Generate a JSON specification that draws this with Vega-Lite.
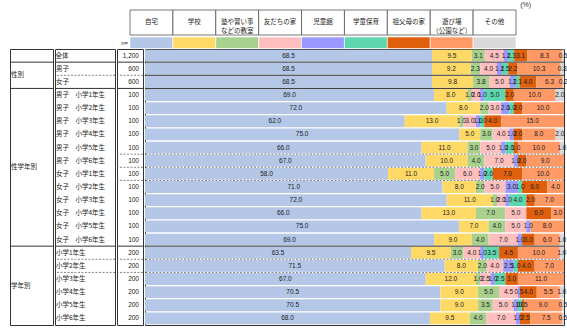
{
  "$schema": "https://vega.github.io/schema/vega-lite/v6.json",
  "padding": {"left": 9, "top": 0, "right": 0, "bottom": 0},
  "background": "white",
  "title": {"text": "(%)", "anchor": "end", "fontSize": 7, "fontWeight": "normal", "font": "Liberation Sans", "color": "#333", "offset": 2, "dx": -37},
  "spacing": -3.5,
  "config": {
    "view": {"stroke": null},
    "font": "Noto Sans CJK JP",
    "text": {"font": "Noto Sans CJK JP", "fontSize": 6.5, "color": "#222"},
    "concat": {"spacing": 0}
  },
  "datasets": {
    "cats": [
      {"cat": "自宅", "ci": 1, "head": "自宅"},
      {"cat": "学校", "ci": 2, "head": "学校"},
      {"cat": "教室", "ci": 3, "head": "塾や習い事\nなどの教室"},
      {"cat": "友だち", "ci": 4, "head": "友だちの家"},
      {"cat": "児童館", "ci": 5, "head": "児童館"},
      {"cat": "学童", "ci": 6, "head": "学童保育"},
      {"cat": "祖父母", "ci": 7, "head": "祖父母の家"},
      {"cat": "遊び場", "ci": 8, "head": "遊び場\n（公園など）"},
      {"cat": "その他", "ci": 9, "head": "その他"}
    ],
    "rows": [
      {"key": "r01", "idx": 1, "group": "全体", "label": "全体", "n": "1,200", "自宅": 68.5, "学校": 9.5, "教室": 3.1, "友だち": 4.5, "児童館": 1.2, "学童": 1.3, "祖父母": 3.1, "遊び場": 8.3, "その他": 0.5},
      {"key": "r02", "idx": 2, "group": "性別", "label": "男子", "n": "600", "自宅": 68.5, "学校": 9.2, "教室": 2.3, "友だち": 4.0, "児童館": 1.2, "学童": 1.5, "祖父母": 2.2, "遊び場": 10.3, "その他": 0.8},
      {"key": "r03", "idx": 3, "group": "性別", "label": "女子", "n": "600", "自宅": 68.5, "学校": 9.8, "教室": 3.8, "友だち": 5.0, "児童館": 1.2, "学童": 1.1, "祖父母": 4.0, "遊び場": 6.3, "その他": 0.2},
      {"key": "r04", "idx": 4, "group": "性学年別", "label": "男子　小学1年生", "n": "100", "自宅": 69, "学校": 8, "教室": 1, "友だち": 2, "児童館": 1, "学童": 5, "祖父母": 2, "遊び場": 10, "その他": 2},
      {"key": "r05", "idx": 5, "group": "性学年別", "label": "男子　小学2年生", "n": "100", "自宅": 72, "学校": 8, "教室": 2, "友だち": 3, "児童館": 2, "学童": 1, "祖父母": 2, "遊び場": 10, "その他": 0},
      {"key": "r06", "idx": 6, "group": "性学年別", "label": "男子　小学3年生", "n": "100", "自宅": 62, "学校": 13, "教室": 1, "友だち": 3, "児童館": 1, "学童": 1, "祖父母": 4, "遊び場": 15, "その他": 0},
      {"key": "r07", "idx": 7, "group": "性学年別", "label": "男子　小学4年生", "n": "100", "自宅": 75, "学校": 5, "教室": 3, "友だち": 4, "児童館": 1, "学童": 0, "祖父母": 2, "遊び場": 8, "その他": 2},
      {"key": "r08", "idx": 8, "group": "性学年別", "label": "男子　小学5年生", "n": "100", "自宅": 66, "学校": 11, "教室": 3, "友だち": 5, "児童館": 1, "学童": 2, "祖父母": 1, "遊び場": 10, "その他": 1},
      {"key": "r09", "idx": 9, "group": "性学年別", "label": "男子　小学6年生", "n": "100", "自宅": 67, "学校": 10, "教室": 4, "友だち": 7, "児童館": 1, "学童": 0, "祖父母": 2, "遊び場": 9, "その他": 0},
      {"key": "r10", "idx": 10, "group": "性学年別", "label": "女子　小学1年生", "n": "100", "自宅": 58, "学校": 11, "教室": 5, "友だち": 6, "児童館": 1, "学童": 2, "祖父母": 7, "遊び場": 10, "その他": 0},
      {"key": "r11", "idx": 11, "group": "性学年別", "label": "女子　小学2年生", "n": "100", "自宅": 71, "学校": 8, "教室": 2, "友だち": 5, "児童館": 3, "学童": 1, "祖父母": 6, "遊び場": 4, "その他": 0},
      {"key": "r12", "idx": 12, "group": "性学年別", "label": "女子　小学3年生", "n": "100", "自宅": 72, "学校": 11, "教室": 1, "友だち": 2, "児童館": 1, "学童": 4, "祖父母": 2, "遊び場": 7, "その他": 0},
      {"key": "r13", "idx": 13, "group": "性学年別", "label": "女子　小学4年生", "n": "100", "自宅": 66, "学校": 13, "教室": 7, "友だち": 5, "児童館": 0, "学童": 0, "祖父母": 6, "遊び場": 3, "その他": 0},
      {"key": "r14", "idx": 14, "group": "性学年別", "label": "女子　小学5年生", "n": "100", "自宅": 75, "学校": 7, "教室": 4, "友だち": 5, "児童館": 1, "学童": 0, "祖父母": 0, "遊び場": 8, "その他": 0},
      {"key": "r15", "idx": 15, "group": "性学年別", "label": "女子　小学6年生", "n": "100", "自宅": 69, "学校": 9, "教室": 4, "友だち": 7, "児童館": 1, "学童": 0, "祖父母": 3, "遊び場": 6, "その他": 1},
      {"key": "r16", "idx": 16, "group": "学年別", "label": "小学1年生", "n": "200", "自宅": 63.5, "学校": 9.5, "教室": 3.0, "友だち": 4.0, "児童館": 1.0, "学童": 3.5, "祖父母": 4.5, "遊び場": 10.0, "その他": 1.0},
      {"key": "r17", "idx": 17, "group": "学年別", "label": "小学2年生", "n": "200", "自宅": 71.5, "学校": 8.0, "教室": 2.0, "友だち": 4.0, "児童館": 2.5, "学童": 1.0, "祖父母": 4.0, "遊び場": 7.0, "その他": 0},
      {"key": "r18", "idx": 18, "group": "学年別", "label": "小学3年生", "n": "200", "自宅": 67.0, "学校": 12.0, "教室": 1.0, "友だち": 2.5, "児童館": 1.0, "学童": 2.5, "祖父母": 3.0, "遊び場": 11.0, "その他": 0},
      {"key": "r19", "idx": 19, "group": "学年別", "label": "小学4年生", "n": "200", "自宅": 70.5, "学校": 9.0, "教室": 5.0, "友だち": 4.5, "児童館": 0.5, "学童": 0, "祖父母": 4.0, "遊び場": 5.5, "その他": 1.0},
      {"key": "r20", "idx": 20, "group": "学年別", "label": "小学5年生", "n": "200", "自宅": 70.5, "学校": 9.0, "教室": 3.5, "友だち": 5.0, "児童館": 1.0, "学童": 1.0, "祖父母": 0.5, "遊び場": 9.0, "その他": 0.5},
      {"key": "r21", "idx": 21, "group": "学年別", "label": "小学6年生", "n": "200", "自宅": 68.0, "学校": 9.5, "教室": 4.0, "友だち": 7.0, "児童館": 1.0, "学童": 0, "祖父母": 2.5, "遊び場": 7.5, "その他": 0.5}
    ]
  },
  "vconcat": [
    {
      "spacing": 0,
      "hconcat": [
        {
          "width": 119, "height": 36.5,
          "data": {"values": [{"t": "n="}]},
          "mark": {"type": "text", "align": "right", "baseline": "bottom", "fontSize": 6, "font": "Liberation Sans", "dx": -1, "dy": -1},
          "encoding": {
            "x": {"field": "t", "type": "nominal", "axis": null, "bandPosition": 1, "scale": {"type": "band", "paddingInner": 0, "paddingOuter": 0}},
            "y": {"field": "t", "type": "nominal", "axis": null, "bandPosition": 1, "scale": {"type": "band", "paddingInner": 0, "paddingOuter": 0}},
            "text": {"field": "t"}
          }
        },
        {
          "spacing": 0,
          "vconcat": [
            {
              "width": 386, "height": 25,
              "data": {"name": "cats"},
              "layer": [
                {
                  "mark": {"type": "rect", "fill": "white", "stroke": "#555", "strokeWidth": 0.8},
                  "encoding": {
                    "x": {"field": "cat", "type": "nominal", "sort": {"field": "ci", "op": "min"}, "axis": null, "scale": {"type": "band", "paddingInner": 0, "paddingOuter": 0}}
                  }
                },
                {
                  "mark": {"type": "text", "lineBreak": "\n", "fontSize": 6.5, "lineHeight": 9, "dy": -1},
                  "encoding": {
                    "x": {"field": "cat", "type": "nominal", "sort": {"field": "ci", "op": "min"}, "axis": null},
                    "text": {"field": "head"}
                  }
                }
              ]
            },
            {
              "width": 386, "height": 11.5,
              "data": {"name": "cats"},
              "mark": {"type": "rect", "stroke": "white", "strokeWidth": 0.6},
              "encoding": {
                "x": {"field": "cat", "type": "nominal", "sort": {"field": "ci", "op": "min"}, "axis": null, "scale": {"type": "band", "paddingInner": 0, "paddingOuter": 0}},
                "color": {"field": "cat", "type": "nominal", "legend": null,
                  "scale": {"domain": ["自宅", "学校", "教室", "友だち", "児童館", "学童", "祖父母", "遊び場", "その他"],
                            "range": ["#B4C7E7", "#FFD966", "#A9D18E", "#FFBFBF", "#9999FF", "#5ED6AE", "#DF5F0B", "#FF9966", "#D9D9D9"]}}
              }
            }
          ]
        }
      ]
    },
    {
      "spacing": 0,
      "hconcat": [
        {
          "width": 43, "height": 276,
          "view": {"stroke": "#333", "strokeWidth": 1},
          "data": {"name": "rows"},
          "layer": [
            {
              "transform": [{"filter": {"field": "key", "oneOf": ["r01", "r03", "r15"]}}],
              "mark": {"type": "rule", "color": "#333", "strokeWidth": 1},
              "encoding": {
                "y": {"field": "key", "type": "nominal", "bandPosition": 1, "axis": null,
                      "scale": {"type": "band", "paddingInner": 0, "paddingOuter": 0,
                                "domain": ["r01", "r02", "r03", "r04", "r05", "r06", "r07", "r08", "r09", "r10", "r11", "r12", "r13", "r14", "r15", "r16", "r17", "r18", "r19", "r20", "r21"]}}
              }
            },
            {
              "transform": [
                {"filter": "datum.group !== '全体'"},
                {"aggregate": [{"op": "mean", "field": "idx", "as": "mid"}], "groupby": ["group"]}
              ],
              "mark": {"type": "text", "align": "left", "dx": 1, "fontSize": 6.5},
              "encoding": {
                "y": {"field": "mid", "type": "quantitative", "axis": null, "scale": {"domain": [0.5, 21.5], "reverse": true, "nice": false, "zero": false}},
                "x": {"datum": "c", "type": "nominal", "bandPosition": 0, "axis": null, "scale": {"type": "band", "paddingInner": 0, "paddingOuter": 0}},
                "text": {"field": "group"}
              }
            }
          ],
          "resolve": {"scale": {"y": "independent"}}
        },
        {
          "width": 60, "height": 276,
          "view": {"stroke": "#333", "strokeWidth": 1},
          "data": {"name": "rows"},
          "encoding": {
            "y": {"field": "key", "type": "nominal", "axis": null, "scale": {"type": "band", "paddingInner": 0, "paddingOuter": 0}}
          },
          "layer": [
            {
              "transform": [{"filter": {"field": "key", "oneOf": ["r01", "r03", "r15"]}}],
              "mark": {"type": "rule", "color": "#333", "strokeWidth": 1},
              "encoding": {"y": {"field": "key", "type": "nominal", "bandPosition": 1, "axis": null}}
            },
            {
              "transform": [{"filter": {"field": "key", "oneOf": ["r02", "r16", "r17"]}}],
              "mark": {"type": "rule", "color": "#666", "strokeWidth": 0.8, "strokeDash": [2, 1.5]},
              "encoding": {"y": {"field": "key", "type": "nominal", "bandPosition": 1, "axis": null}}
            },
            {
              "transform": [{"filter": "datum.group !== '全体'"}],
              "mark": {"type": "text", "align": "left", "dx": 1, "fontSize": 6.5},
              "encoding": {
                "x": {"datum": "c", "type": "nominal", "bandPosition": 0, "axis": null, "scale": {"type": "band", "paddingInner": 0, "paddingOuter": 0}},
                "text": {"field": "label"}
              }
            },
            {
              "transform": [{"filter": "datum.group === '全体'"}],
              "mark": {"type": "text", "align": "center", "dx": 7, "fontSize": 6.5},
              "encoding": {
                "x": {"datum": "c", "type": "nominal", "bandPosition": 0, "axis": null},
                "text": {"field": "label"}
              }
            }
          ]
        },
        {
          "width": 26, "height": 276,
          "view": {"stroke": "#333", "strokeWidth": 1},
          "data": {"name": "rows"},
          "encoding": {
            "y": {"field": "key", "type": "nominal", "axis": null, "scale": {"type": "band", "paddingInner": 0, "paddingOuter": 0}}
          },
          "layer": [
            {
              "transform": [{"filter": {"field": "key", "oneOf": ["r01", "r03", "r15"]}}],
              "mark": {"type": "rule", "color": "#333", "strokeWidth": 1},
              "encoding": {"y": {"field": "key", "type": "nominal", "bandPosition": 1, "axis": null}}
            },
            {
              "transform": [{"filter": {"field": "key", "oneOf": ["r02", "r08", "r09", "r10", "r16", "r17"]}}],
              "mark": {"type": "rule", "color": "#666", "strokeWidth": 0.8, "strokeDash": [2, 1.5]},
              "encoding": {"y": {"field": "key", "type": "nominal", "bandPosition": 1, "axis": null}}
            },
            {
              "mark": {"type": "text", "align": "right", "dx": -4, "fontSize": 6.5, "font": "Liberation Sans"},
              "encoding": {
                "x": {"datum": "c", "type": "nominal", "bandPosition": 1, "axis": null, "scale": {"type": "band", "paddingInner": 0, "paddingOuter": 0}},
                "text": {"field": "n"}
              }
            }
          ]
        },
        {
          "width": 419, "height": 276,
          "view": {"stroke": "#333", "strokeWidth": 1},
          "data": {"name": "rows"},
          "encoding": {
            "y": {"field": "key", "type": "nominal", "axis": null, "scale": {"type": "band", "paddingInner": 0, "paddingOuter": 0}}
          },
          "layer": [
            {
              "transform": [
                {"fold": ["自宅", "学校", "教室", "友だち", "児童館", "学童", "祖父母", "遊び場", "その他"], "as": ["cat", "value"]},
                {"lookup": "cat", "from": {"data": {"name": "cats"}, "key": "cat", "fields": ["ci"]}},
                {"stack": "value", "groupby": ["key"], "sort": [{"field": "ci", "order": "ascending"}], "as": ["x0", "x1"]}
              ],
              "layer": [
                {
                  "mark": {"type": "bar", "height": {"band": 0.9}},
                  "encoding": {
                    "x": {"field": "x0", "type": "quantitative", "axis": null, "scale": {"domain": [0, 100], "nice": false, "zero": true}},
                    "x2": {"field": "x1"},
                    "color": {"field": "cat", "type": "nominal", "legend": null,
                      "scale": {"domain": ["自宅", "学校", "教室", "友だち", "児童館", "学童", "祖父母", "遊び場", "その他"],
                                "range": ["#B4C7E7", "#FFD966", "#A9D18E", "#FFBFBF", "#9999FF", "#5ED6AE", "#DF5F0B", "#FF9966", "#D9D9D9"]}}
                  }
                },
                {
                  "transform": [
                    {"filter": "datum.value > 0"},
                    {"calculate": "(datum.x0 + datum.x1) / 2", "as": "mid"}
                  ],
                  "mark": {"type": "text", "fontSize": 6.5, "font": "Liberation Sans", "color": "#222"},
                  "encoding": {
                    "x": {"field": "mid", "type": "quantitative"},
                    "text": {"field": "value", "type": "quantitative", "format": ".1f"}
                  }
                }
              ]
            },
            {
              "transform": [{"filter": {"field": "key", "oneOf": ["r01", "r02", "r03", "r15"]}}],
              "mark": {"type": "rule", "color": "#333", "strokeWidth": 1},
              "encoding": {"y": {"field": "key", "type": "nominal", "bandPosition": 1, "axis": null}}
            },
            {
              "transform": [{"filter": {"field": "key", "oneOf": ["r08", "r09", "r10", "r16", "r17"]}}],
              "mark": {"type": "rule", "color": "#666", "strokeWidth": 0.8, "strokeDash": [2, 1.5]},
              "encoding": {"y": {"field": "key", "type": "nominal", "bandPosition": 1, "axis": null}}
            }
          ]
        }
      ]
    }
  ]
}
